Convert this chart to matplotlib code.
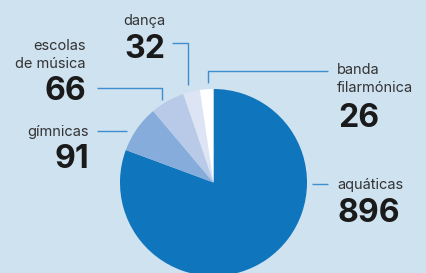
import matplotlib
matplotlib.use("Agg")
import matplotlib.pyplot as plt

categories = ["aquáticas", "gímnicas", "escolas\nde música", "dança", "banda\nfilarmónica"]
values = [896, 91, 66, 32, 26]
colors = ["#0F75BC", "#86ACDB", "#B9C9E8", "#DDE4F3", "#FFFFFF"]

BG = "#CFE2F0"
LINE = "#3F8FD0"
W, H = 427, 273

fig = plt.figure(figsize=(W / 100, H / 100), dpi=100, facecolor=BG)
ax = fig.add_axes([0, 0, 1, 1])
ax.set_facecolor(BG)

cx, cy, r = 213.5, H - 182.5, 93.5
ax.pie(values, colors=colors, startangle=90, counterclock=False,
       center=(cx, cy), radius=r, frame=True,
       wedgeprops=dict(linewidth=0))
ax.set_xlim(0, W)
ax.set_ylim(0, H)
ax.axis("off")

def Y(py):
    return H - py

font = ["Inter", "DejaVu Sans"]
lab_kw = dict(fontsize=10.5, color="#333333", family=font)
num_kw = dict(fontsize=23, color="#1A1A1A", family=font, fontweight="bold")

# label layouts: (x, ha, label baseline(s), number baseline)
layout = {
    "dança": (165, "right", [25], 58),
    "escolas\nde música": (86, "right", [50, 67.7], 100),
    "gímnicas": (89, "right", [136], 168),
    "banda\nfilarmónica": (337, "left", [74, 91.7], 127),
    "aquáticas": (337, "left", [188.7], 222),
}
for cat, val in zip(categories, values):
    x, ha, lbs, nb = layout[cat]
    for line, b in zip(cat.split("\n"), lbs):
        ax.text(x, Y(b), line, ha=ha, va="baseline", **lab_kw)
    ax.text(x + (1 if ha == "left" else 0), Y(nb), str(val), ha=ha, va="baseline", **num_kw)

# leader lines
leaders = [
    [(172, 42.7), (187.7, 42.7), (187.7, 85)],
    [(96.7, 87.7), (161.7, 87.7), (161.7, 100)],
    [(96.7, 130.7), (126.7, 130.7)],
    [(327.7, 70.7), (207.7, 70.7), (207.7, 82.7)],
    [(311.7, 184.3), (328, 184.3)],
]
for pts in leaders:
    xs = [p[0] for p in pts]
    ys = [Y(p[1]) for p in pts]
    ax.plot(xs, ys, color=LINE, lw=1.0, solid_capstyle="butt")

fig.savefig("out.png", dpi=100, facecolor=BG)
